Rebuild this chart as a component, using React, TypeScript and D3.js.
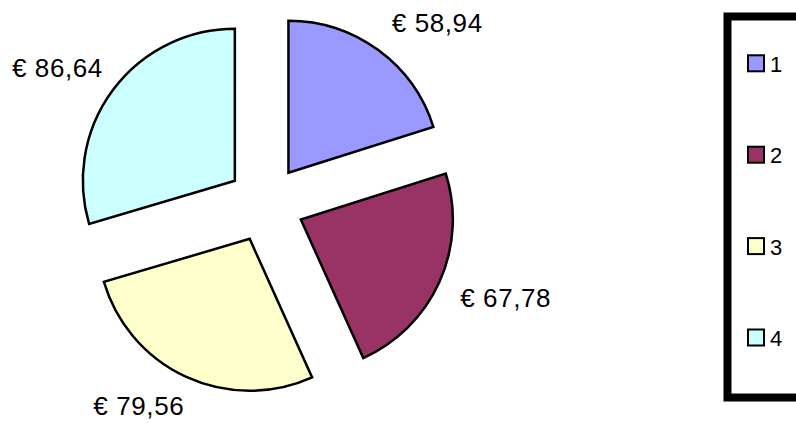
import React from "react";
import * as d3 from "d3";

const categories = ["1", "2", "3", "4"];
const values = [58.94, 67.78, 79.56, 86.64];
const labels = ["€ 58,94", "€ 67,78", "€ 79,56", "€ 86,64"];
const colors = ["#9999FF", "#993366", "#FFFFCC", "#CCFFFF"];

const W = 796;
const H = 423;
const cx = 265.7;
const cy = 203.8;
const radius = 152;
const explode = 38.5;
const labelDist = 174;
const fontSize = 26;
const labelW = 92;
const labelH = 18;

export default function App() {
  const pie = d3
    .pie<number>()
    .sort(null)
    .startAngle(0)
    .endAngle(2 * Math.PI)
    .value((d) => d);
  const arcs = pie(values);
  const arc = d3.arc<d3.PieArcDatum<number>>().innerRadius(0).outerRadius(radius);

  const legendY = d3.scalePoint<string>().domain(categories).range([63.3, 337.5]);
  const clamp = (v: number) => Math.max(-1, Math.min(1, v));

  return (
    <svg
      width={W}
      height={H}
      style={{ position: "absolute", left: 0, top: 0, display: "block", background: "#fff" }}
      fontFamily="'Liberation Sans', Arial, sans-serif"
    >
      <g transform={`translate(${cx},${cy})`}>
        {arcs.map((a, i) => {
          const mid = (a.startAngle + a.endAngle) / 2;
          const dx = Math.sin(mid);
          const dy = -Math.cos(mid);
          return (
            <g key={i} transform={`translate(${dx * explode},${dy * explode})`}>
              <path d={arc(a) || ""} fill={colors[i]} stroke="#000" strokeWidth={2.5} strokeLinejoin="miter" />
            </g>
          );
        })}
        {arcs.map((a, i) => {
          const mid = (a.startAngle + a.endAngle) / 2;
          const dx = Math.sin(mid);
          const dy = -Math.cos(mid);
          const px = dx * (explode + labelDist);
          const py = dy * (explode + labelDist);
          const lx = px + (labelW / 2) * clamp(dx * 2) + (dx < -0.7 ? 8 : 0);
          const ly = py + (labelH / 2) * clamp(dy * 2);
          return (
            <text
              key={i}
              x={lx}
              y={ly + labelH / 2}
              textAnchor="middle"
              style={{ fontSize: `${fontSize}px`, letterSpacing: "0.6px" }}
              fill="#000"
            >
              {labels[i]}
            </text>
          );
        })}
      </g>
      <rect x={727.5} y={16.5} width={120} height={381} fill="#fff" stroke="#000" strokeWidth={8} />
      {categories.map((c, i) => {
        const y = legendY(c) as number;
        return (
          <g key={c}>
            <rect x={748} y={y - 8} width={16} height={16} fill={colors[i]} stroke="#000" strokeWidth={2} />
            <text x={770} y={y + 8.5} style={{ fontSize: "22px" }} fill="#000">
              {c}
            </text>
          </g>
        );
      })}
    </svg>
  );
}
